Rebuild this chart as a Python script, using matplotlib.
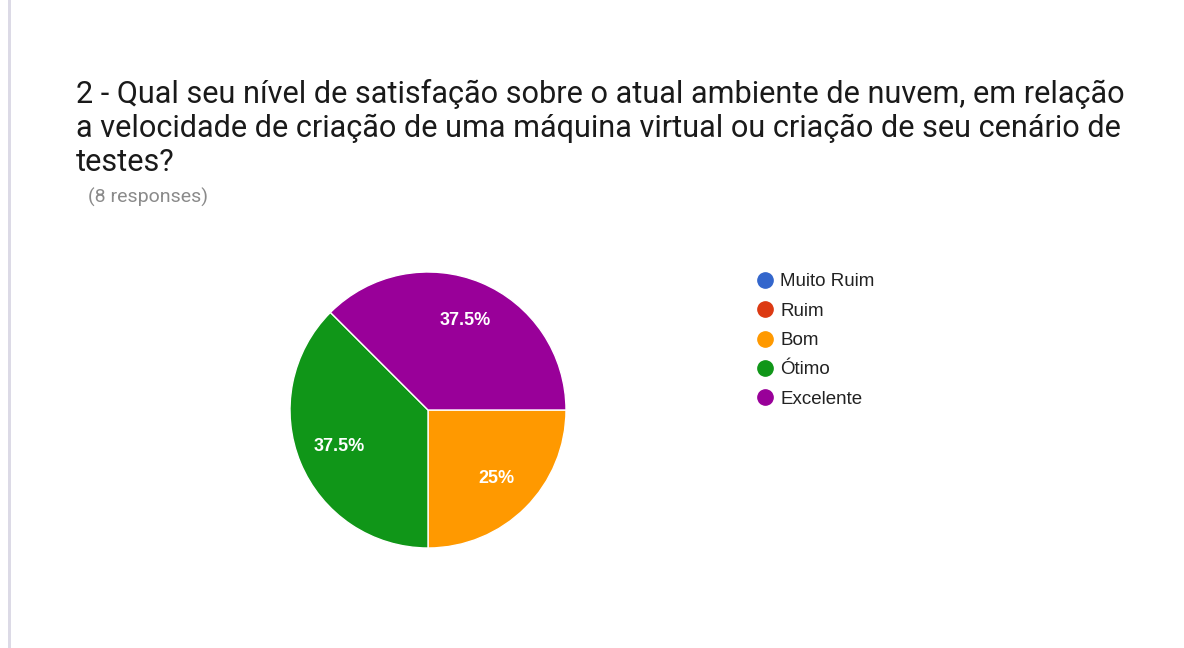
import matplotlib
matplotlib.use("Agg")
import matplotlib.pyplot as plt
from matplotlib.lines import Line2D
from matplotlib.patches import Rectangle

categories = ["Muito Ruim", "Ruim", "Bom", "Ótimo", "Excelente"]
counts = [0, 0, 2, 3, 3]
colors = ["#3366cc", "#dc3912", "#ff9900", "#109618", "#990099"]
title_lines = [
    "2 - Qual seu nível de satisfação sobre o atual ambiente de nuvem, em relação",
    "a velocidade de criação de uma máquina virtual ou criação de seu cenário de",
    "testes?",
]
subtitle = "(8 responses)"

W, H = 1184, 648
fig = plt.figure(figsize=(W / 100, H / 100), dpi=100)
fig.patch.set_facecolor("white")

# left grey bar
fig.add_artist(Rectangle((8 / W, 0), 3 / W, 1, transform=fig.transFigure,
                         facecolor="#dcdae6", edgecolor="none"))

# title
fig.text(76 / W, 1 - 128 / H, "\n".join(title_lines), family="Roboto",
         fontsize=22.1, color="#1a1a1a", va="center", ha="left", linespacing=1.22)
fig.text(88 / W, 1 - 197 / H, subtitle, family="Roboto", fontsize=14,
         color="#8a8a8a", va="center", ha="left")

# pie
cx, cy, r = 428, 410, 138
ax = fig.add_axes([(cx - r) / W, (H - cy - r) / H, 2 * r / W, 2 * r / H])

def fmt(p):
    return "" if p < 0.01 else ("%g%%" % round(p, 1))

wedges, texts, autotexts = ax.pie(
    counts, colors=colors, startangle=0, counterclock=False,
    autopct=fmt, pctdistance=0.70, radius=1,
    wedgeprops=dict(edgecolor="white", linewidth=1.0),
    textprops=dict(color="white", fontsize=13, family="Liberation Sans", fontweight="bold"),
)
ax.set_xlim(-1, 1)
ax.set_ylim(-1, 1)
ax.set_aspect("equal")
ax.axis("off")

# legend
handles = [Line2D([0], [0], marker="o", linestyle="none", markersize=11,
                  markerfacecolor=c, markeredgecolor=c) for c in colors]
leg = fig.legend(handles, categories, loc="upper left",
                 bbox_to_anchor=(749 / W, 1 - 264 / H), frameon=False,
                 handlelength=0.75, handletextpad=0.42, labelspacing=0.65,
                 prop=dict(family="Liberation Sans", size=13.5), borderpad=0)
for t in leg.get_texts():
    t.set_color("#222222")

fig.savefig("out.png", dpi=100, facecolor="white")
